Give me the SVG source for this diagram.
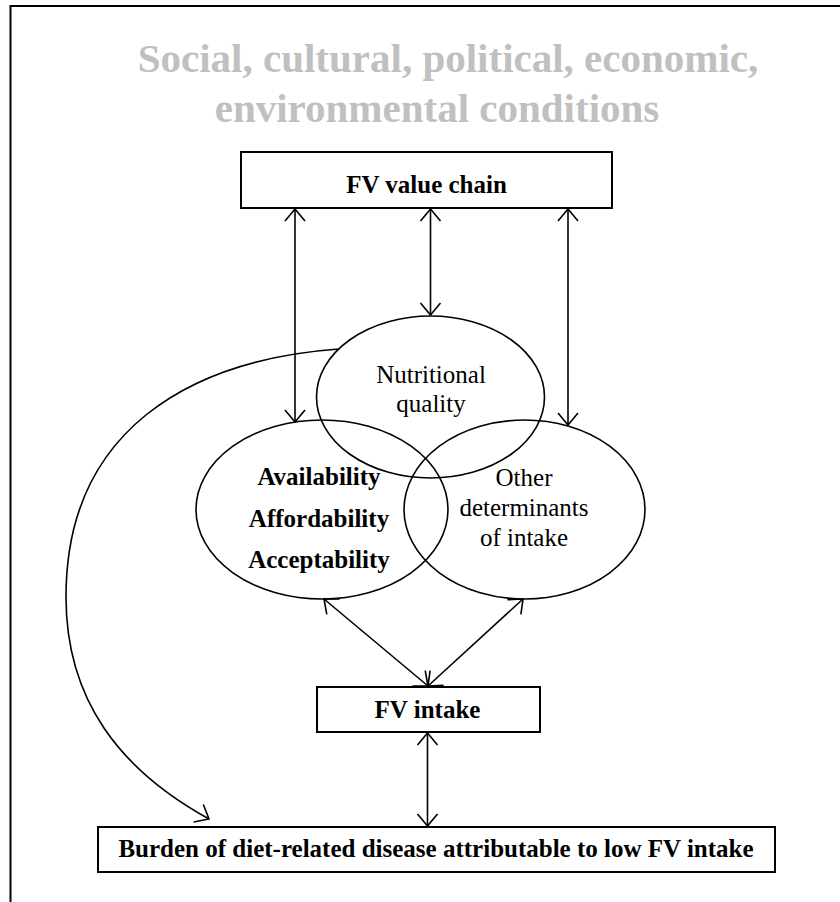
<svg xmlns="http://www.w3.org/2000/svg" width="840" height="902" viewBox="0 0 840 902">
  <defs>
    <marker id="head" markerUnits="userSpaceOnUse" markerWidth="30" markerHeight="30" refX="0" refY="0" viewBox="-15 -15 30 30" orient="auto-start-reverse" overflow="visible">
      <path d="M -12 -10 L 0 0 L -12 10" fill="none" stroke="#000" stroke-width="1.6"/>
    </marker>
    <style>
      .box { fill: #fff; stroke: #000; stroke-width: 2; }
      .ell { fill: none; stroke: #000; stroke-width: 1.6; }
      .link { fill: none; stroke: #000; stroke-width: 1.6; }
      .t { font-family: "Liberation Serif", "Times New Roman", serif; font-size: 25px; fill: #000; text-anchor: middle; }
      .b { font-weight: bold; }
      .title { font-family: "Liberation Serif", "Times New Roman", serif; font-size: 41px; font-weight: bold; fill: #c0c0c0; text-anchor: middle; }
    </style>
  </defs>

  <rect width="840" height="902" fill="#fff"/>
  <!-- frame (right and bottom edges run off the page) -->
  <rect x="10.5" y="6" width="900" height="1000" fill="none" stroke="#000" stroke-width="2"/>

  <g id="conditions">
    <text class="title" x="448" y="72">Social, cultural, political, economic,</text>
    <text class="title" x="437" y="122">environmental conditions</text>
  </g>

  <g id="value-chain">
    <rect class="box" x="241" y="152" width="371" height="56"/>
    <text class="t b" x="426.5" y="193">FV value chain</text>
  </g>

  <g id="nutritional-quality">
    <ellipse class="ell" cx="430.5" cy="397" rx="114" ry="81"/>
    <text class="t" x="431" y="383">Nutritional</text>
    <text class="t" x="431" y="412">quality</text>
  </g>

  <g id="three-a">
    <ellipse class="ell" cx="322" cy="509.5" rx="126" ry="89.5"/>
    <text class="t b" x="319" y="485">Availability</text>
    <text class="t b" x="319" y="527">Affordability</text>
    <text class="t b" x="319" y="568">Acceptability</text>
  </g>

  <g id="other-determinants">
    <ellipse class="ell" cx="524.5" cy="509.5" rx="120.5" ry="89.5"/>
    <text class="t" x="524" y="486">Other</text>
    <text class="t" x="524" y="516">determinants</text>
    <text class="t" x="524" y="546">of intake</text>
  </g>

  <g id="fv-intake">
    <rect class="box" x="317" y="687" width="223" height="45"/>
    <text class="t b" x="427.5" y="718">FV intake</text>
  </g>

  <g id="disease-burden">
    <rect class="box" x="98" y="827" width="677" height="45"/>
    <text class="t b" x="436" y="857">Burden of diet-related disease attributable to low FV intake</text>
  </g>

  <g id="connectors">
    <line class="link" x1="295" y1="209" x2="295" y2="422" marker-start="url(#head)" marker-end="url(#head)"/>
    <line class="link" x1="430.5" y1="209" x2="430.5" y2="315" marker-start="url(#head)" marker-end="url(#head)"/>
    <line class="link" x1="568" y1="209" x2="568" y2="425" marker-start="url(#head)" marker-end="url(#head)"/>
    <line class="link" x1="324" y1="599" x2="428" y2="686" marker-start="url(#head)" marker-end="url(#head)"/>
    <line class="link" x1="523" y1="599" x2="428" y2="686" marker-start="url(#head)" marker-end="url(#head)"/>
    <line class="link" x1="427.5" y1="733" x2="427.5" y2="826" marker-start="url(#head)" marker-end="url(#head)"/>
    <path class="link" d="M 338.5 349 C 190 360, 66 430, 66 597 C 66 700, 120 770, 209 819" marker-end="url(#head)"/>
  </g>
</svg>
